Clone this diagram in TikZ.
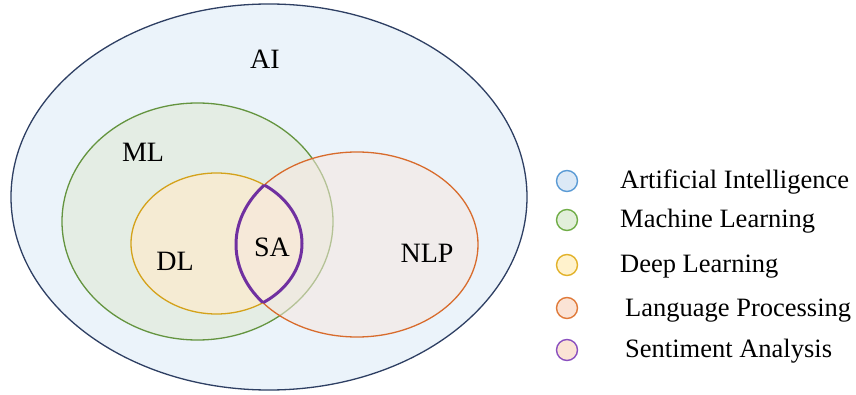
\documentclass[tikz,border=0pt]{standalone}
\usepackage{fontspec}
\setmainfont{Liberation Serif}
\begin{document}
\begin{tikzpicture}[x=1pt,y=-1pt,
  lbl/.style={font=\fontsize{28}{30}\selectfont, inner sep=0pt},
  legtext/.style={font=\fontsize{26.5}{28}\selectfont, anchor=west, inner sep=0pt},
  legdot/.style={circle, minimum size=21pt, inner sep=0pt, line width=1.4pt},
]
\definecolor{aiFill}{HTML}{EBF3FA}
\definecolor{aiLine}{HTML}{2E3F63}
\definecolor{mlFill}{HTML}{E4EDE4}
\definecolor{mlLine}{HTML}{64943F}
\definecolor{dlFill}{HTML}{F5EBD3}
\definecolor{dlLine}{HTML}{D4A21A}
\definecolor{nlpFill}{HTML}{F7E8DF}
\definecolor{nlpLine}{HTML}{D86B2C}
\definecolor{saLine}{HTML}{7030A0}
\definecolor{lgBlueF}{HTML}{DCE9F6}
\definecolor{lgBlueL}{HTML}{5B9BD5}
\definecolor{lgGreenF}{HTML}{E2EFDA}
\definecolor{lgGreenL}{HTML}{70AD47}
\definecolor{lgYellowF}{HTML}{FFF2CC}
\definecolor{lgYellowL}{HTML}{E2B22A}
\definecolor{lgOrangeF}{HTML}{FBE3D5}
\definecolor{lgOrangeL}{HTML}{E07A3A}
\definecolor{lgPurpleL}{HTML}{8A4FBF}

\useasboundingbox (0,0) rectangle (856,395);
\fill[white] (0,0) rectangle (856,395);

% nested sets
\draw[aiLine, fill=aiFill, line width=1.3pt] (269,197) ellipse [x radius=258, y radius=193];
\draw[mlLine, fill=mlFill, line width=1.3pt] (197.5,221.5) ellipse [x radius=135.5, y radius=118.5];
\draw[dlLine, fill=dlFill, line width=1.3pt] (216.5,243.5) ellipse [x radius=85.5, y radius=70.5];
\draw[nlpLine, line width=1.3pt, fill=nlpFill, fill opacity=0.55] (357,244.5) ellipse [x radius=121, y radius=92.5];

% sentiment analysis lens = DL intersect NLP
\begin{scope}
  \clip (216.5,243.5) ellipse [x radius=85.5, y radius=70.5];
  \draw[saLine, line width=3pt] (357,244.5) ellipse [x radius=121, y radius=92.5];
\end{scope}
\begin{scope}
  \clip (357,244.5) ellipse [x radius=121, y radius=92.5];
  \draw[saLine, line width=3pt] (216.5,243.5) ellipse [x radius=85.5, y radius=70.5];
\end{scope}

\node[lbl] (ai) at (265,59) {AI};
\node[lbl] (ml) at (143,152) {ML};
\node[lbl] (dl) at (175,261) {DL};
\node[lbl] (sa) at (272,247) {SA};
\node[lbl] (nlp) at (427,253) {NLP};

% legend
\node[legdot, draw=lgBlueL, fill=lgBlueF] (k1) at (567,181) {};
\node[legdot, draw=lgGreenL, fill=lgGreenF] (k2) at (567,220) {};
\node[legdot, draw=lgYellowL, fill=lgYellowF] (k3) at (567,265) {};
\node[legdot, draw=lgOrangeL, fill=lgOrangeF] (k4) at (567,308) {};
\node[legdot, draw=lgPurpleL, fill=lgOrangeF] (k5) at (567,350) {};

\node[legtext] (t1) at (620,182.5) {Artificial Intelligence};
\node[legtext] (t2) at (620,221.5) {Machine Learning};
\node[legtext] (t3) at (620,266.5) {Deep Learning};
\node[legtext] (t4) at (625,310.5) {Language Processing};
\node[legtext] (t5) at (625,351.5) {Sentiment Analysis};
\end{tikzpicture}
\end{document}
